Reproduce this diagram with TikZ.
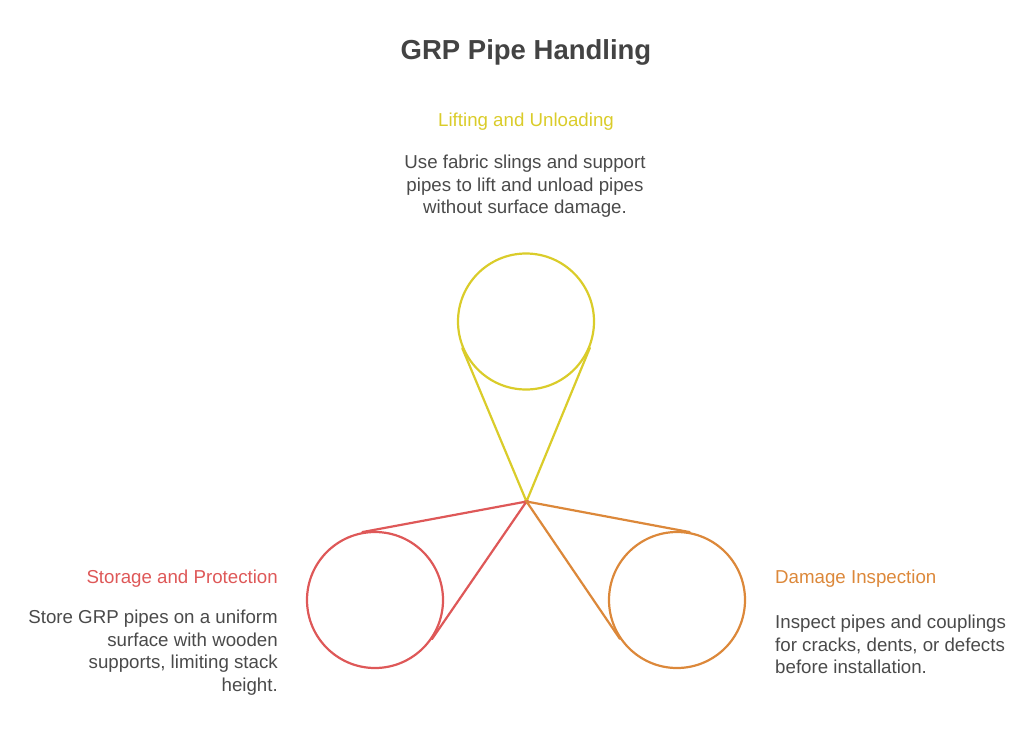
\documentclass[tikz,border=0pt]{standalone}
\usepackage{fontspec}
\setmainfont{Liberation Sans}
\usetikzlibrary{calc, positioning}

\definecolor{liftcol}{RGB}{218,204,42}
\definecolor{storecol}{RGB}{222,88,88}
\definecolor{inspcol}{RGB}{220,136,58}
\definecolor{bodycol}{RGB}{74,74,74}

\tikzset{
  pipe/.style={circle, draw, line width=2.2pt, minimum size=136pt, inner sep=0pt},
  sling/.style={line width=2.2pt, line cap=round},
  head/.style={font=\fontsize{18.7}{22.5}\selectfont, inner sep=0pt},
  body/.style={font=\fontsize{18.7}{22.5}\selectfont, text=bodycol, inner sep=0pt}
}

\begin{document}
\begin{tikzpicture}[x=1pt, y=-1pt]
\useasboundingbox (0,0) rectangle (1024,749);

\node[font=\bfseries\fontsize{27.5}{32}\selectfont, text=bodycol!90!black, anchor=base] (title) at (526,60) {GRP Pipe Handling};

\coordinate (hub) at (526.5,501.5);
\node[pipe, draw=liftcol] (lift) at (526,321.5) {};
\node[pipe, draw=storecol] (store) at (375,600) {};
\node[pipe, draw=inspcol] (insp) at (677,600) {};

\draw[sling, liftcol] (tangent cs:node=lift, point={(hub)}, solution=1) -- (hub)
  -- (tangent cs:node=lift, point={(hub)}, solution=2);
\draw[sling, storecol] (tangent cs:node=store, point={(hub)}, solution=1) -- (hub)
  -- (tangent cs:node=store, point={(hub)}, solution=2);
\draw[sling, inspcol] (tangent cs:node=insp, point={(hub)}, solution=1) -- (hub)
  -- (tangent cs:node=insp, point={(hub)}, solution=2);

% labels
\node[head, text=liftcol, anchor=base] (liftT) at (526,126) {Lifting and Unloading};
\node[body, align=center, anchor=north] (liftB) at (525,155) {Use fabric slings and support\\pipes to lift and unload pipes\\without surface damage.};

\node[head, text=storecol, anchor=base east] (storeT) at (278,583) {Storage and Protection};
\node[body, align=right, anchor=north east] (storeB) at (278,610) {Store GRP pipes on a uniform\\surface with wooden\\supports, limiting stack\\height.};

\node[head, text=inspcol, anchor=base west] (inspT) at (775,583) {Damage Inspection};
\node[body, align=left, anchor=north west] (inspB) at (775,615) {Inspect pipes and couplings\\for cracks, dents, or defects\\before installation.};
\end{tikzpicture}
\end{document}
